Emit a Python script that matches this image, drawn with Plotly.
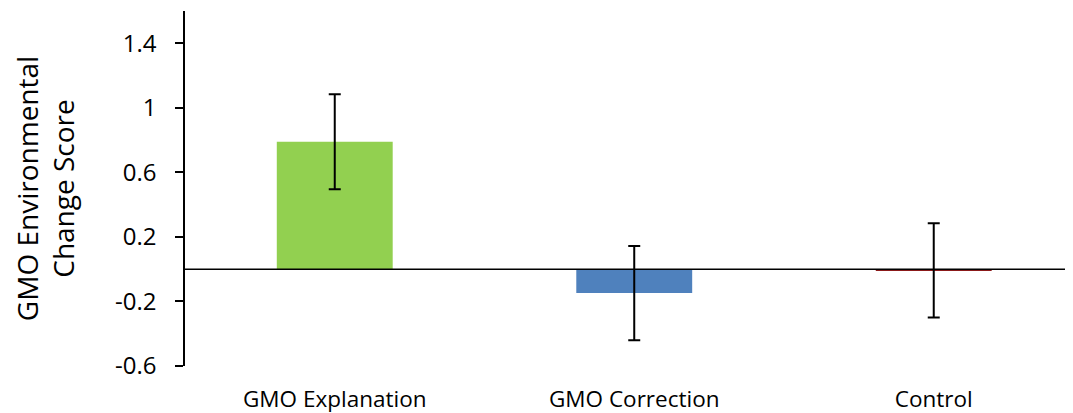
import plotly.graph_objects as go

categories = ["GMO Explanation", "GMO Correction", "Control"]
values = [0.79, -0.148, -0.007]
errors = [0.294, 0.292, 0.292]
colors = ["#92D050", "#4F81BD", "#8B1A1A"]
y_ticks = [-0.6, -0.2, 0.2, 0.6, 1, 1.4]
y_tick_labels = ["-0.6", "-0.2", "0.2", "0.6", "1", "1.4"]

FONT = "Open Sans"

fig = go.Figure()
fig.add_trace(go.Bar(
    x=categories,
    y=values,
    width=0.387,
    marker=dict(color=colors, line=dict(width=0)),
    error_y=dict(type="data", array=errors, visible=True,
                 color="black", thickness=2, width=6),
    showlegend=False,
))

fig.add_shape(type="line", xref="paper", yref="y", x0=0, x1=1, y0=0, y1=0,
              line=dict(color="black", width=1.5), layer="above")

fig.update_layout(
    width=1065, height=405,
    margin=dict(l=177, r=0, t=3, b=47),
    paper_bgcolor="white", plot_bgcolor="white",
    font=dict(family=FONT, color="black", size=22),
    xaxis=dict(
        range=[-0.5, 2.465],
        showline=False, showgrid=False, zeroline=False, ticks="",
        tickfont=dict(size=22.5, family=FONT, color="black"),
        ticklabelstandoff=17,
    ),
    yaxis=dict(
        range=[-0.6, 1.6],
        tickvals=y_ticks, ticktext=y_tick_labels,
        showline=True, linecolor="black", linewidth=1.5,
        ticks="outside", ticklen=8, tickwidth=1.5, tickcolor="black",
        showgrid=False, zeroline=False,
        tickfont=dict(size=24, family=FONT, color="black"),
        ticklabelstandoff=14,
        title=dict(text="GMO Environmental<br>Change Score",
                   font=dict(size=28, family=FONT, color="black"),
                   standoff=42),
    ),
)

fig.write_html("out.html")
